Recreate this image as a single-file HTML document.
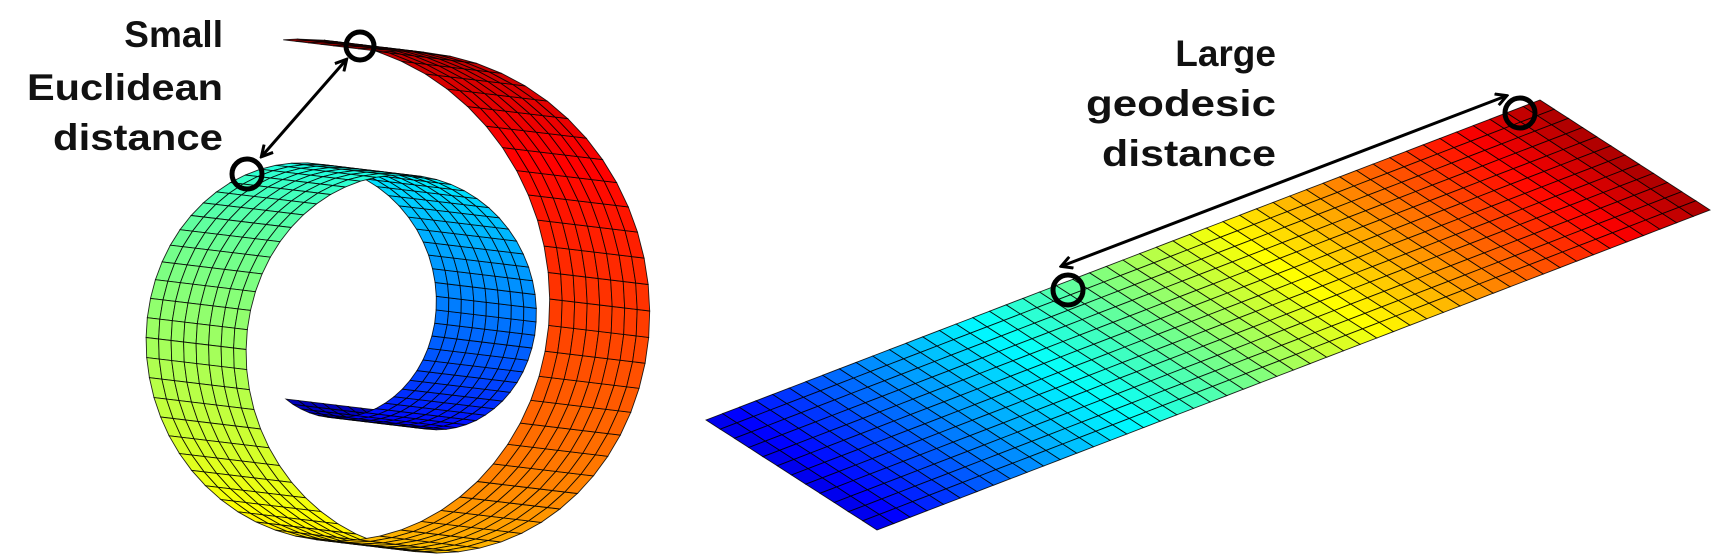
<!DOCTYPE html>
<html><head><meta charset="utf-8"><style>
html,body{margin:0;padding:0;background:#fff;}
svg{display:block;}
text{font-family:"Liberation Sans",Arial,sans-serif;font-weight:bold;font-size:37px;fill:#111;}
</style></head><body>
<svg id="fig" width="1724" height="558" viewBox="0 0 1724 558" xmlns="http://www.w3.org/2000/svg">
<defs>
<marker id="ah" markerWidth="14" markerHeight="14" refX="11" refY="7" orient="auto-start-reverse" markerUnits="userSpaceOnUse">
<path d="M1,1 L12,7 L1,13" fill="none" stroke="#000" stroke-width="3"/>
</marker>
</defs>
<g id="roll"></g>
<g id="plane"></g>
<g>
<text x="223" y="47" text-anchor="end">Small</text>
<text x="223" y="100" text-anchor="end" textLength="196" lengthAdjust="spacingAndGlyphs">Euclidean</text>
<text x="223" y="150" text-anchor="end" textLength="170" lengthAdjust="spacingAndGlyphs">distance</text>
<text x="1276" y="66" text-anchor="end">Large</text>
<text x="1276" y="116" text-anchor="end" textLength="190" lengthAdjust="spacingAndGlyphs">geodesic</text>
<text x="1276" y="166" text-anchor="end" textLength="174" lengthAdjust="spacingAndGlyphs">distance</text>
<line x1="262" y1="156" x2="346" y2="60" stroke="#000" stroke-width="3" marker-start="url(#ah)" marker-end="url(#ah)"/>
<line x1="1062" y1="266" x2="1506" y2="96" stroke="#000" stroke-width="3" marker-start="url(#ah)" marker-end="url(#ah)"/>
<circle cx="247" cy="174" r="15" fill="none" stroke="#000" stroke-width="5"/>
<circle cx="360" cy="46" r="14" fill="none" stroke="#000" stroke-width="5"/>
<circle cx="1068" cy="290" r="15" fill="none" stroke="#000" stroke-width="5"/>
<circle cx="1520" cy="113" r="15" fill="none" stroke="#000" stroke-width="5"/>
</g>
</svg>
<script>
// Swiss roll spiral parameters (degrees)
const rollAngleRange = [245, 818];
const rollRadiusAt360 = [115.5];
const rollRadiusGrowth = [0.3167];
// Plane corners order: left, bottom, right, top
const planeCornersX = [706, 877, 1710, 1540];
const planeCornersY = [420, 530, 210, 100];
const planeCells = [50, 12];

const NS = "http://www.w3.org/2000/svg";
function jet(v){
  const c = x => Math.max(0, Math.min(1, x));
  const r = c(1.5 - Math.abs(4*v - 3)), g = c(1.5 - Math.abs(4*v - 2)), b = c(1.5 - Math.abs(4*v - 1));
  return "rgb(" + Math.round(r*255) + "," + Math.round(g*255) + "," + Math.round(b*255) + ")";
}
function poly(parent, pts, fill, name){
  const p = document.createElementNS(NS, "polygon");
  p.setAttribute("points", pts.map(q => q[0].toFixed(1) + "," + q[1].toFixed(1)).join(" "));
  p.setAttribute("fill", fill);
  p.setAttribute("stroke", "#000");
  p.setAttribute("stroke-width", "0.9");
  p.setAttribute("stroke-opacity", "0.85");
  
  
  parent.appendChild(p);
}
// Roll
(function(){
  const g = document.getElementById("roll");
  const cx = 319.5, cy = 321, k = 1.09, dx = 100, dy = 12;
  const P = phi => {
    const r = rollRadiusAt360[0] + rollRadiusGrowth[0]*(phi - 360);
    const a = phi*Math.PI/180;
    return [cx + r*Math.cos(a), cy - k*r*Math.sin(a)];
  };
  const a0 = rollAngleRange[0], a1 = rollAngleRange[1];
  const step = 6, nW = 8;
  for (let phi = a0; phi < a1; phi += step) {
    const pe = Math.min(phi + step, a1);
    const A = P(phi), B = P(pe);
    const t = ((phi + pe)/2 - a0)/(a1 - a0);
    const col = jet(0.05 + 0.92*t);
    for (let j = 0; j < nW; j++) {
      const s0 = j/nW, s1 = (j+1)/nW;
      poly(g, [[A[0]+s0*dx, A[1]+s0*dy],[B[0]+s0*dx, B[1]+s0*dy],[B[0]+s1*dx, B[1]+s1*dy],[A[0]+s1*dx, A[1]+s1*dy]], col, "roll-cell");
    }
  }
})();
// Plane
(function(){
  const g = document.getElementById("plane");
  const L = [planeCornersX[0], planeCornersY[0]], Bt = [planeCornersX[1], planeCornersY[1]];
  const R = [planeCornersX[2], planeCornersY[2]], T = [planeCornersX[3], planeCornersY[3]];
  const nU = planeCells[0], nV = planeCells[1];
  const pt = (u, v) => {
    const top = [L[0] + (T[0]-L[0])*u, L[1] + (T[1]-L[1])*u];
    const bot = [Bt[0] + (R[0]-Bt[0])*u, Bt[1] + (R[1]-Bt[1])*u];
    return [top[0] + (bot[0]-top[0])*v, top[1] + (bot[1]-top[1])*v];
  };
  for (let i = 0; i < nU; i++) {
    const u0 = i/nU, u1 = (i+1)/nU;
    const col = jet(0.1 + 0.86*((i+0.5)/nU));
    for (let j = 0; j < nV; j++) {
      const v0 = j/nV, v1 = (j+1)/nV;
      poly(g, [pt(u0,v0), pt(u1,v0), pt(u1,v1), pt(u0,v1)], col, "plane-cell");
    }
  }
})();
</script>
</body></html>
